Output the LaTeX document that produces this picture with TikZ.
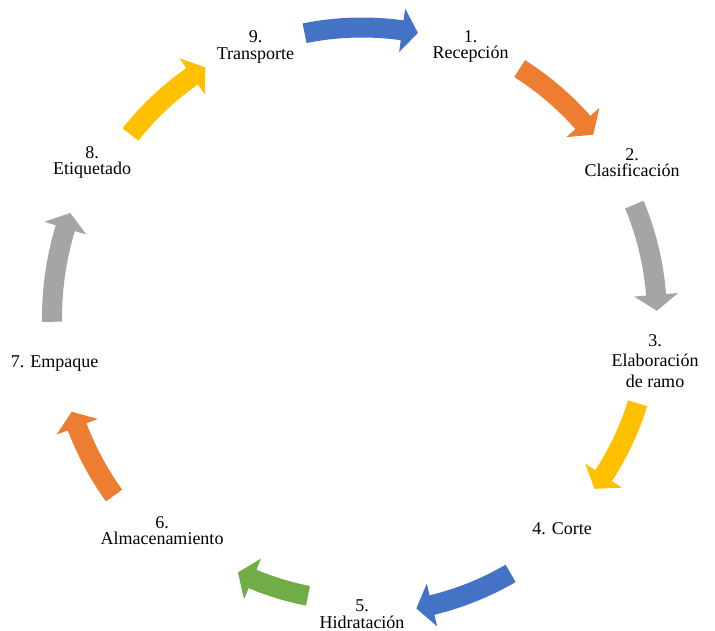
\documentclass[tikz,border=0pt]{standalone}
\usepackage{fontspec}
\setmainfont{Liberation Serif}
\usetikzlibrary{calc}

\definecolor{cycBlue}{HTML}{4472C4}
\definecolor{cycOrange}{HTML}{ED7D31}
\definecolor{cycGray}{HTML}{A5A5A5}
\definecolor{cycYellow}{HTML}{FFC000}
\definecolor{cycGreen}{HTML}{70AD47}

% Curved block arrow running clockwise around (C):
% #1 colour, #2 radius of the centre line, #3 tail angle, #4 tip angle
\newcommand\cycarrow[4]{%
  \pgfmathsetmacro\ro{#2+10}%
  \pgfmathsetmacro\ri{#2-10}%
  \pgfmathsetmacro\hout{#2+22}%
  \pgfmathsetmacro\hin{#2-22}%
  \pgfmathsetmacro\hb{#4+16/#2*180/pi}%
  \fill[#1] ($(C)+(#3:\ro)$) arc[start angle=#3, end angle=\hb, radius=\ro]
    -- ($(C)+(\hb:\hout)$) -- ($(C)+(#4:#2)$) -- ($(C)+(\hb:\hin)$)
    -- ($(C)+(\hb:\ri)$) arc[start angle=\hb, end angle=#3, radius=\ri] -- cycle;
}

% labels are anchored at the baseline of their last line
\tikzset{
  lbl/.style={anchor=base, align=center, inner sep=0pt,
    font=\fontsize{18}{16.5}\selectfont}
}

\begin{document}
\begin{tikzpicture}[x=1pt, y=1pt]
  \useasboundingbox (0,0) rectangle (715,631);
  \coordinate (C) at (362,313);

  % arrows between the steps
  \cycarrow{cycBlue}{290.5}{101.4}{78.9}
  \cycarrow{cycOrange}{295}{57.7}{38.4}
  \cycarrow{cycGray}{295}{22.6}{1.4}
  \cycarrow{cycYellow}{288.5}{-17.2}{-36.3}
  \cycarrow{cycBlue}{295.5}{-59.8}{-79.4}
  \cycarrow{cycGreen}{283}{-101}{-116}
  \cycarrow{cycOrange}{305}{-144.4}{-162.1}
  \cycarrow{cycGray}{310}{180.7}{160.2}
  \cycarrow{cycYellow}{295.5}{141.6}{122}

  % step labels
  \node[lbl] (l1) at (470.5,572) {1.\\Recepción};
  \node[lbl] (l2) at (632,454) {2.\\Clasificación};
  \node[lbl] (l3) at (655,243.5) {3.\\[4pt]Elaboración\\[4pt]de ramo};
  \node[lbl] (l4) at (562,96) {4. Corte};
  \node[lbl] (l5) at (362,2.5) {5.\\Hidratación};
  \node[lbl] (l6) at (162,86) {6.\\Almacenamiento};
  \node[lbl] (l7) at (54.7,263.3) {7. Empaque};
  \node[lbl] (l8) at (92,456) {8.\\Etiquetado};
  \node[lbl] (l9) at (255.5,571.8) {9.\\Transporte};
\end{tikzpicture}
\end{document}
